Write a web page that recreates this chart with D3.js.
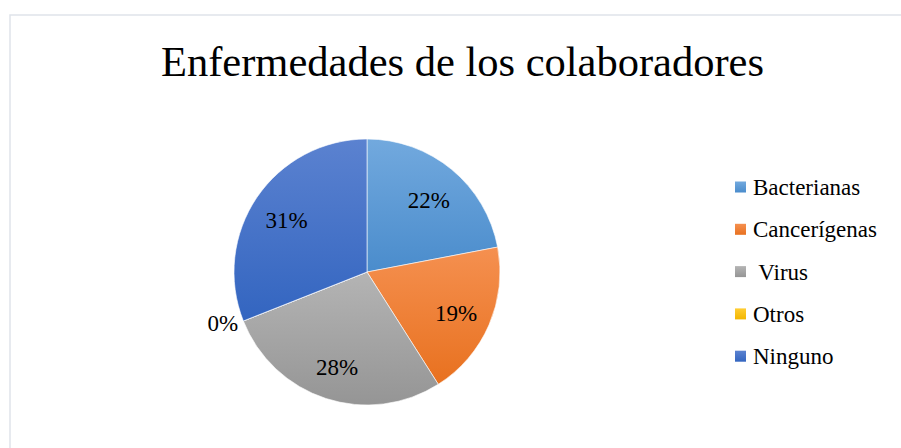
<!DOCTYPE html>
<html>
<head>
<meta charset="utf-8">
<script src="https://cdn.jsdelivr.net/npm/d3@7"></script>
<style>
  body { margin: 0; background: #fff; }
  svg { display: block; }
  text { font-family: "Liberation Serif", "Times New Roman", serif; fill: #000; }
</style>
</head>
<body>
<svg width="901" height="448"></svg>
<script>
// data
var categories = ["Bacterianas", "Cancerígenas", " Virus", "Otros", "Ninguno"];
var values = [22, 19, 28, 0, 31];
var topColors = ["#72a9de", "#f59050", "#b4b4b4", "#ffcd33", "#5b82d0"];
var bottomColors = ["#4a8ccc", "#e8711f", "#959595", "#f2b600", "#3365c0"];

var svg = d3.select("svg");
var width = 901, height = 448;

// chart area border (light)
svg.append("path")
    .attr("d", "M10,449 L10,15 L901,15")
    .attr("fill", "none")
    .attr("stroke", "#dfe4ea")
    .attr("stroke-width", 1.5);

svg.append("text")
    .attr("x", 462.5)
    .attr("y", 76)
    .attr("text-anchor", "middle")
    .style("font-size", "42.5px")
    .text("Enfermedades de los colaboradores");

// gradients, light on top, darker at bottom
var defs = svg.append("defs");
categories.forEach(function(c, i) {
    var g = defs.append("linearGradient")
        .attr("id", "grad" + i)
        .attr("x1", 0).attr("y1", 0)
        .attr("x2", 0).attr("y2", 1);
    g.append("stop").attr("offset", "0%").attr("stop-color", topColors[i]);
    g.append("stop").attr("offset", "100%").attr("stop-color", bottomColors[i]);
});

var cx = 367, cy = 272, radius = 133;

var pie = d3.pie().sort(null).value(function(d) { return d; });
var arcs = pie(values);

var arc = d3.arc().innerRadius(0).outerRadius(radius);
var labelArc = d3.arc().innerRadius(radius * 0.73).outerRadius(radius * 0.73);
var outerLabelArc = d3.arc().innerRadius(radius + 22).outerRadius(radius + 22);

var g = svg.append("g").attr("transform", "translate(" + cx + "," + cy + ")");

g.selectAll("path.slice")
    .data(arcs)
    .enter().append("path")
    .attr("class", "slice")
    .attr("d", arc)
    .attr("fill", function(d, i) { return "url(#grad" + i + ")"; })
    .attr("stroke", "#fff")
    .attr("stroke-width", 0.6);

g.selectAll("text.lbl")
    .data(arcs)
    .enter().append("text")
    .attr("class", "lbl")
    .attr("transform", function(d) {
        var p = d.value === 0 ? outerLabelArc.centroid(d) : labelArc.centroid(d);
        return "translate(" + p[0] + "," + p[1] + ")";
    })
    .attr("text-anchor", "middle")
    .attr("dy", function(d) { return d.value === 0 ? "0.1em" : "0.45em"; })
    .style("font-size", "23px")
    .text(function(d) { return d.value + "%"; });

// legend
var legend = svg.append("g").attr("transform", "translate(735,187)");
var item = legend.selectAll("g")
    .data(categories)
    .enter().append("g")
    .attr("transform", function(d, i) { return "translate(0," + (i * 42.3) + ")"; });

item.append("rect")
    .attr("x", 0)
    .attr("y", -5.5)
    .attr("width", 11)
    .attr("height", 11)
    .attr("fill", function(d, i) { return "url(#grad" + i + ")"; });

item.append("text")
    .attr("x", 18)
    .attr("dy", "0.35em")
    .style("font-size", "23px")
    .style("white-space", "pre")
    .text(function(d) { return d; });
</script>
</body>
</html>
